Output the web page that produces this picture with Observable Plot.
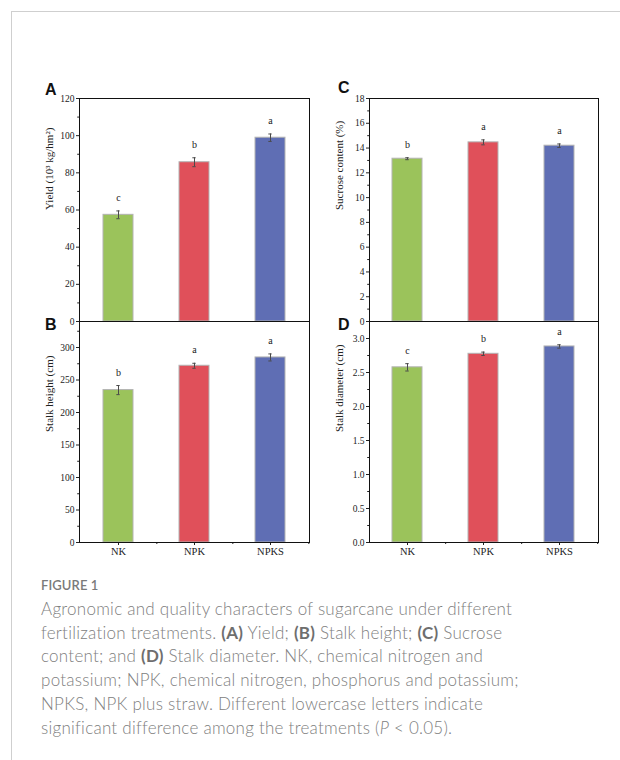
<!DOCTYPE html>
<html>
<head>
<meta charset="utf-8">
<script src="https://cdn.jsdelivr.net/npm/d3@7"></script>
<script src="https://cdn.jsdelivr.net/npm/@observablehq/plot@0.6"></script>
<style>
  html, body { margin: 0; padding: 0; background: #fff; }
  #page { position: relative; width: 620px; height: 760px; overflow: hidden; background: #fff; }
  .card { position: absolute; left: 11px; top: 11px; width: 640px; height: 800px;
          border-top: 1px solid #cfcfcf; border-left: 1px solid #cfcfcf; }
  .panel { position: absolute; }
  .tag { position: absolute; font-family: "Liberation Sans", Arial, sans-serif; font-weight: bold;
         font-size: 16px; line-height: 16px; color: #111; }
  .figlabel { position: absolute; left: 41px; top: 579px; font-family: Lato, "Open Sans", sans-serif;
              font-size: 13px; line-height: 13px; color: #7a7a7a; font-weight: 600; letter-spacing: 0.1px; }
  .caption { position: absolute; left: 41px; top: 597px; width: 575px; font-family: Lato, "Open Sans", sans-serif;
             font-size: 17px; line-height: 23.7px; color: #808080; font-weight: 300; white-space: nowrap; letter-spacing: 0.25px; }
  .caption b { font-weight: 700; color: #6e6e6e; }
</style>
</head>
<body>
<div id="page">
  <div class="card"></div>
  <div class="panel" id="pA"></div>
  <div class="panel" id="pB"></div>
  <div class="panel" id="pC"></div>
  <div class="panel" id="pD"></div>
  <div class="tag" style="left:45px; top:81.5px;">A</div>
  <div class="tag" style="left:45px; top:316.5px;">B</div>
  <div class="tag" style="left:338px; top:79.5px;">C</div>
  <div class="tag" style="left:338px; top:316.5px;">D</div>
  <div class="figlabel">FIGURE 1</div>
  <div class="caption">Agronomic and quality characters of sugarcane under different<br>fertilization treatments. <b>(A)</b> Yield; <b>(B)</b> Stalk height; <b>(C)</b> Sucrose<br>content; and <b>(D)</b> Stalk diameter. NK, chemical nitrogen and<br>potassium; NPK, chemical nitrogen, phosphorus and potassium;<br>NPKS, NPK plus straw. Different lowercase letters indicate<br>significant difference among the treatments (<i>P</i> &lt; 0.05).</div>
</div>
<script>
// ---- data ----
const treatments = ["NK", "NPK", "NPKS"];
const barColors = ["#9BC35B", "#E0505A", "#5F6EB4"];

const yieldMean = [57.4, 85.7, 98.9];
const yieldErr = [2.1, 2.4, 2.0];
const yieldLetters = ["c", "b", "a"];
const yieldTicks = [0, 20, 40, 60, 80, 100, 120];
const yieldMinor = [10, 30, 50, 70, 90, 110];

const heightMean = [234.5, 271.9, 284.7];
const heightErr = [7.0, 3.8, 5.4];
const heightLetters = ["b", "a", "a"];
const heightTicks = [0, 50, 100, 150, 200, 250, 300];
const heightMinor = [25, 75, 125, 175, 225, 275, 325];

const sucroseMean = [13.14, 14.46, 14.19];
const sucroseErr = [0.08, 0.2, 0.14];
const sucroseLetters = ["b", "a", "a"];
const sucroseTicks = [0, 2, 4, 6, 8, 10, 12, 14, 16, 18];
const sucroseMinor = [1, 3, 5, 7, 9, 11, 13, 15, 17];

const diamMean = [2.576, 2.775, 2.883];
const diamErr = [0.054, 0.025, 0.025];
const diamLetters = ["c", "b", "a"];
const diamTicks = [0, 0.5, 1.0, 1.5, 2.0, 2.5, 3.0];
const diamMinor = [0.25, 0.75, 1.25, 1.75, 2.25, 2.75, 3.25];

// ---- drawing ----
const ML = 50, MR = 10, MT = 10, MB = 24;

function panel({id, frameLeft, frameTop, w, h, mean, err, letters, domain, major, minor, fmt, title, xaxis}) {
  const rows = treatments.map((t, i) => ({cat: t, mean: mean[i], err: err[i], letter: letters[i], color: barColors[i]}));
  const step = w / 3;               // paddingInner 0.6, paddingOuter 0.3 => n - 0.6 + 0.6 = 3
  const bw = step * 0.4;
  const capInset = (bw - 4) / 2;
  const lo = d => d.mean - d.err, hi = d => d.mean + d.err;
  const marks = [
    Plot.barY(rows, {x: "cat", y: "mean", fill: "color", stroke: "#b3b3b3", strokeWidth: 1}),
    Plot.ruleX(rows, {x: "cat", y1: lo, y2: hi, stroke: "#4a4a4a", strokeWidth: 1}),
    Plot.tickY(rows, {x: "cat", y: lo, insetLeft: capInset, insetRight: capInset, stroke: "#4a4a4a", strokeWidth: 1}),
    Plot.tickY(rows, {x: "cat", y: hi, insetLeft: capInset, insetRight: capInset, stroke: "#4a4a4a", strokeWidth: 1}),
    Plot.text(rows, {x: "cat", y: hi, text: "letter", dy: -13, fontSize: 10, fill: "#222"}),
    Plot.axisY({ticks: major, tickSize: 3, tickPadding: 2, tickFormat: fmt, fontSize: 9.5, label: null, fill: "#222"}),
    Plot.axisY({ticks: minor, tickSize: 1.8, tickFormat: () => "", label: null}),
    Plot.text([title], {frameAnchor: "left", rotate: -90, dx: -30, fontSize: 11, fill: "#222"})
  ];
  if (xaxis) {
    marks.push(Plot.axisX({tickSize: 3, tickPadding: 2, fontSize: 10.5, label: null, fill: "#222"}));
    marks.push(Plot.axisX({tickSize: 2, tickFormat: () => "", dx: step / 2, label: null}));
  }
  marks.push(Plot.frame({stroke: "#111", strokeWidth: 1}));
  const svg = Plot.plot({
    width: w + ML + MR,
    height: h + MT + MB,
    marginLeft: ML, marginRight: MR, marginTop: MT, marginBottom: MB,
    style: {background: "transparent", overflow: "visible", fontFamily: "'Liberation Serif', 'Times New Roman', serif", fontSize: "9px", color: "#222", maxWidth: "none"},
    x: {type: "band", domain: treatments, paddingInner: 0.6, paddingOuter: 0.3, axis: null},
    y: {domain, axis: null},
    color: {type: "identity"},
    marks
  });
  const host = document.getElementById(id);
  host.style.left = (frameLeft - ML) + "px";
  host.style.top = (frameTop - MT) + "px";
  host.appendChild(svg);
}

const f0 = d3.format("d"), f1 = d3.format(".1f");

panel({id: "pA", frameLeft: 79, frameTop: 98, w: 230, h: 223, mean: yieldMean, err: yieldErr, letters: yieldLetters,
  domain: [0, 120], major: yieldTicks, minor: yieldMinor, fmt: f0, title: "Yield (10³ kg/hm²)", xaxis: false});
panel({id: "pB", frameLeft: 79, frameTop: 321, w: 230, h: 221, mean: heightMean, err: heightErr, letters: heightLetters,
  domain: [0, 340], major: heightTicks, minor: heightMinor, fmt: f0, title: "Stalk height (cm)", xaxis: true});
panel({id: "pC", frameLeft: 369, frameTop: 98, w: 229, h: 223, mean: sucroseMean, err: sucroseErr, letters: sucroseLetters,
  domain: [0, 18], major: sucroseTicks, minor: sucroseMinor, fmt: f0, title: "Sucrose content (%)", xaxis: false});
panel({id: "pD", frameLeft: 369, frameTop: 321, w: 229, h: 221, mean: diamMean, err: diamErr, letters: diamLetters,
  domain: [0, 3.25], major: diamTicks, minor: diamMinor, fmt: f1, title: "Stalk diameter (cm)", xaxis: true});
</script>
</body>
</html>
